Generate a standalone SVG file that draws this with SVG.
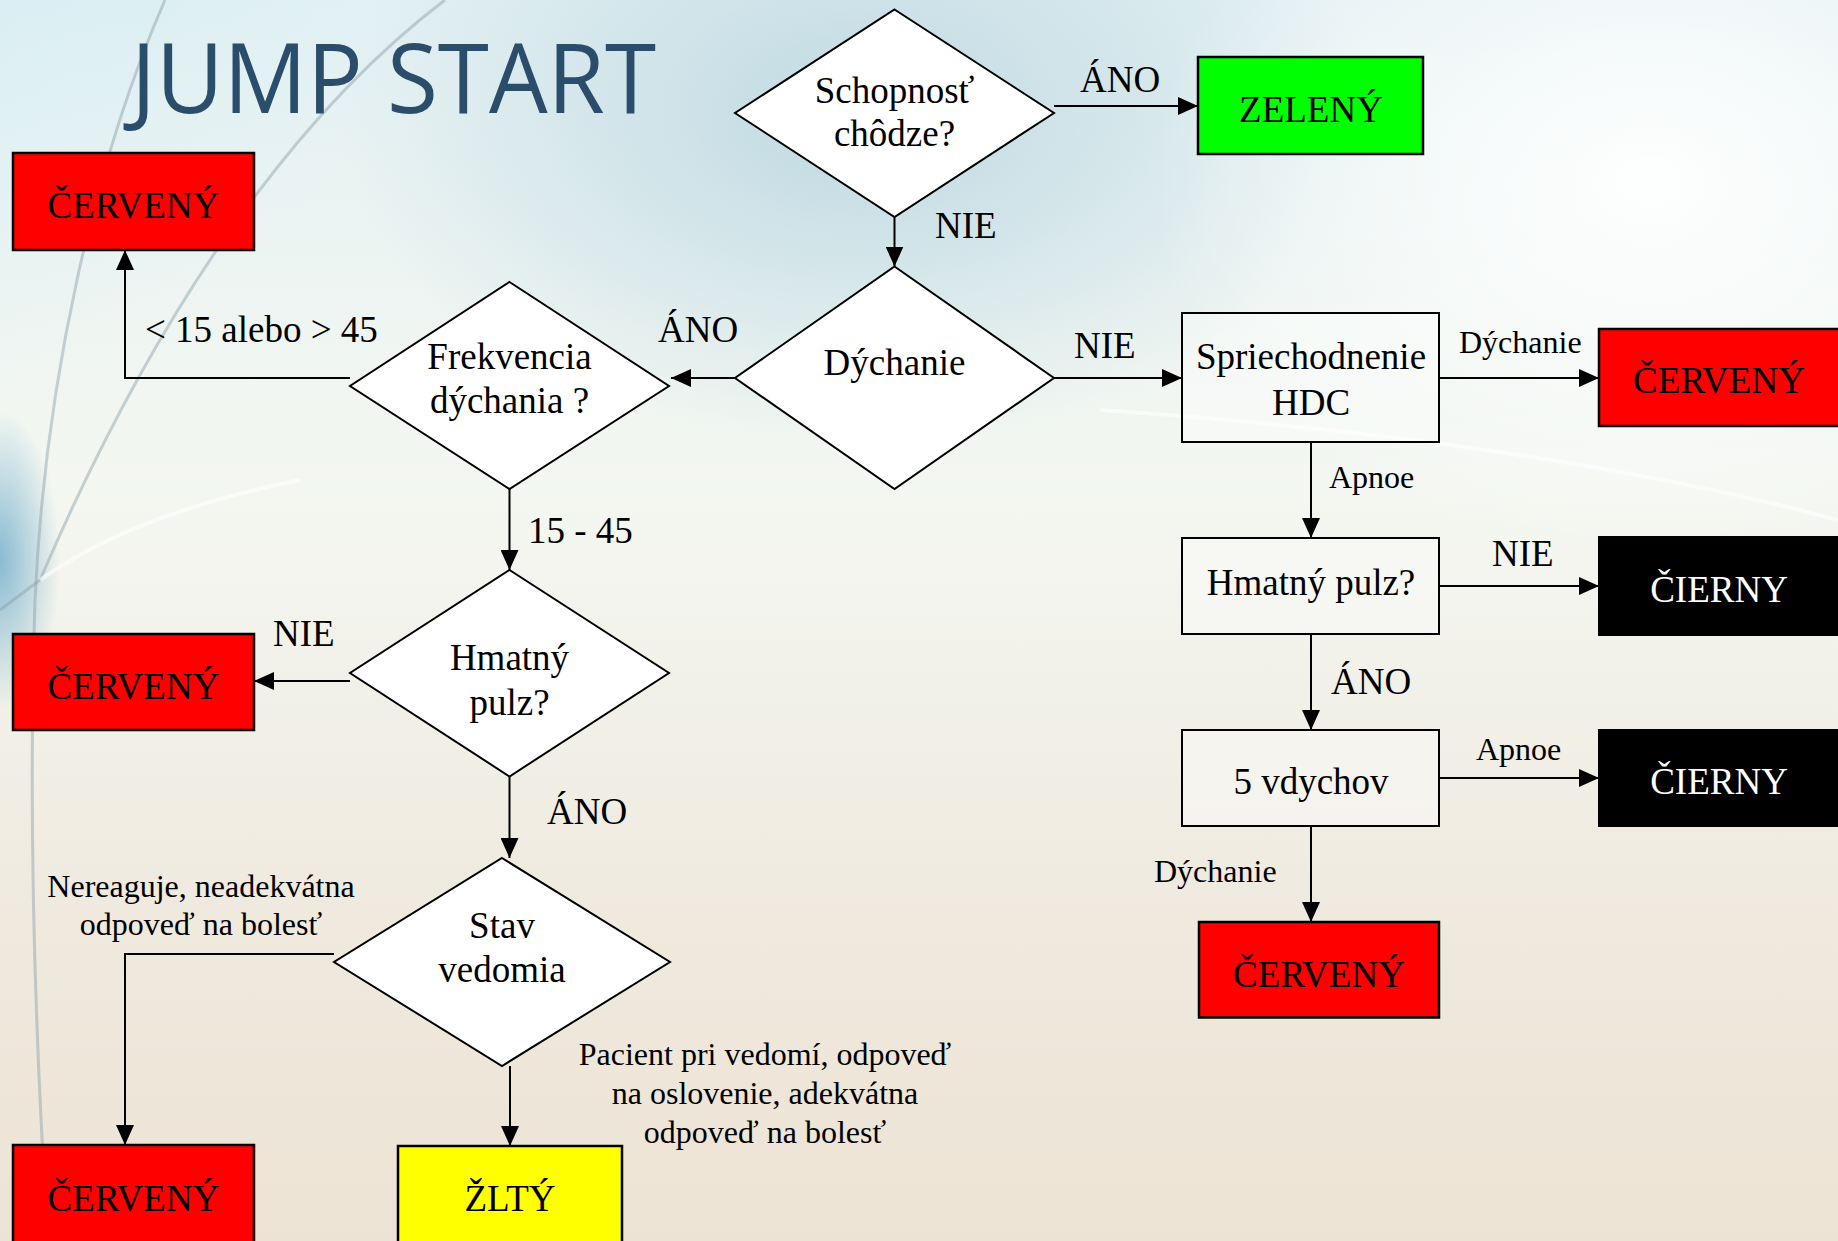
<svg xmlns="http://www.w3.org/2000/svg" width="1838" height="1241" viewBox="0 0 1838 1241">
<defs>
<linearGradient id="bgv" x1="0" y1="0" x2="0" y2="1">
<stop offset="0" stop-color="#e4f1f3"/>
<stop offset="0.4" stop-color="#f4f7f1"/>
<stop offset="0.75" stop-color="#efe9de"/>
<stop offset="1" stop-color="#ede3d4"/>
</linearGradient>
<radialGradient id="tl" cx="0" cy="0" r="1">
<stop offset="0" stop-color="#c2e8f4" stop-opacity="1"/>
<stop offset="1" stop-color="#c2e8f4" stop-opacity="0"/>
</radialGradient>
<radialGradient id="tc" cx="0.5" cy="0.5" r="0.5">
<stop offset="0" stop-color="#bcd7e1" stop-opacity="0.9"/>
<stop offset="1" stop-color="#bcd7e1" stop-opacity="0"/>
</radialGradient>
<radialGradient id="tr" cx="0.5" cy="0.5" r="0.5">
<stop offset="0" stop-color="#ffffff" stop-opacity="0.95"/>
<stop offset="1" stop-color="#ffffff" stop-opacity="0"/>
</radialGradient>
<radialGradient id="le" cx="0.5" cy="0.5" r="0.5">
<stop offset="0" stop-color="#7db4cf" stop-opacity="0.9"/>
<stop offset="1" stop-color="#7db4cf" stop-opacity="0"/>
</radialGradient>
<marker id="ah" markerUnits="userSpaceOnUse" markerWidth="20" markerHeight="18" refX="20" refY="9" orient="auto" viewBox="0 0 20 18">
<path d="M0,0 L20,9 L0,18 Z" fill="#000"/>
</marker>
<style>
.dia{fill:#ffffff;stroke:#000;stroke-width:2}
.box{fill:#ffffff;fill-opacity:0.35;stroke:#000;stroke-width:2}
.red{fill:#ff0000;stroke:#000;stroke-width:2.5}
.grn{fill:#00ff00;stroke:#000;stroke-width:2.5}
.yel{fill:#ffff00;stroke:#000;stroke-width:2.5}
.blk{fill:#000000;stroke:#000;stroke-width:2}
.t{font-family:"Liberation Serif","Times New Roman",serif;font-size:37px;fill:#000;text-anchor:middle}
.tw{font-family:"Liberation Serif","Times New Roman",serif;font-size:37px;fill:#fff;text-anchor:middle}
.l{font-family:"Liberation Serif","Times New Roman",serif;font-size:37px;fill:#000}
.s{font-family:"Liberation Serif","Times New Roman",serif;font-size:32px;fill:#000}
.sc{font-family:"Liberation Serif","Times New Roman",serif;font-size:32px;fill:#000;text-anchor:middle}
.c{fill:none;stroke:#000;stroke-width:2;marker-end:url(#ah)}
.arc{fill:none;stroke:#8a9ea6;stroke-opacity:0.45;stroke-width:3}
.arcw{fill:none;stroke:#ffffff;stroke-opacity:0.6;stroke-width:4}
</style>
</defs>
<g id="background">
<rect x="0" y="0" width="1838" height="1241" fill="url(#bgv)"/>
<ellipse cx="0" cy="0" rx="700" ry="520" fill="url(#tl)"/>
<ellipse cx="860" cy="120" rx="520" ry="330" fill="url(#tc)"/>
<ellipse cx="1650" cy="180" rx="500" ry="380" fill="url(#tr)"/>
<ellipse cx="0" cy="560" rx="60" ry="150" fill="url(#le)"/>
<path class="arc" d="M165,0 C95,160 45,380 35,600 C28,820 35,1040 48,1241"/>
<path class="arc" d="M445,0 C300,110 160,300 40,580 L0,610"/>
<path class="arcw" d="M300,480 C200,500 110,530 40,580"/>
<path class="arcw" d="M1100,410 C1400,430 1650,470 1838,520"/>
</g>
<text id="title" x="131" y="113" font-family="'Open Sans','DejaVu Sans',sans-serif" font-size="97" fill="#2b4d6c" textLength="525" lengthAdjust="spacingAndGlyphs">JUMP START</text>
<g id="connectors">
<path class="c" d="M1054,106 L1198,106"/>
<path class="c" d="M894.5,217 L894.5,266.5"/>
<path class="c" d="M1054,378 L1182,378"/>
<path class="c" d="M1439,378 L1599,378"/>
<path class="c" d="M1311,442 L1311,538"/>
<path class="c" d="M1439,586 L1599,586"/>
<path class="c" d="M1311,634 L1311,730"/>
<path class="c" d="M1439,778 L1599,778"/>
<path class="c" d="M1311,826 L1311,922"/>
<path class="c" d="M735,378 L671,378"/>
<path class="c" d="M350,378 L125,378 L125,250"/>
<path class="c" d="M509.5,489 L509.5,570"/>
<path class="c" d="M350,681 L254,681"/>
<path class="c" d="M509.5,776.5 L509.5,858"/>
<path class="c" d="M334,954 L125,954 L125,1145"/>
<path class="c" d="M510,1066 L510,1146"/>
</g>
<g id="n-schopnost">
<polygon class="dia" points="894.5,9.5 1054,113 894.5,217 735,113"/>
<text class="t" x="894.5" y="103">Schopnosť</text>
<text class="t" x="894.5" y="146">chôdze?</text>
</g>
<g id="n-zeleny">
<rect class="grn" x="1198" y="57" width="225" height="97"/>
<text class="t" x="1311" y="122">ZELENÝ</text>
</g>
<g id="n-dychanie">
<polygon class="dia" points="894.5,266.5 1054,378 894.5,489 735,378"/>
<text class="t" x="894.5" y="375">Dýchanie</text>
</g>
<g id="n-frekvencia">
<polygon class="dia" points="509.5,282 669,386 509.5,489 350,386"/>
<text class="t" x="509.5" y="369">Frekvencia</text>
<text class="t" x="509.5" y="413">dýchania ?</text>
</g>
<g id="n-cerveny1">
<rect class="red" x="13" y="153" width="241" height="97"/>
<text class="t" x="133.5" y="218">ČERVENÝ</text>
</g>
<g id="n-hmatny-d">
<polygon class="dia" points="509.5,570 669,673 509.5,776.5 350,673"/>
<text class="t" x="509.5" y="670">Hmatný</text>
<text class="t" x="509.5" y="715">pulz?</text>
</g>
<g id="n-cerveny2">
<rect class="red" x="13" y="634" width="241" height="96"/>
<text class="t" x="133.5" y="699">ČERVENÝ</text>
</g>
<g id="n-stav">
<polygon class="dia" points="502,858 670,962 502,1066 334,962"/>
<text class="t" x="502" y="938">Stav</text>
<text class="t" x="502" y="982">vedomia</text>
</g>
<g id="n-cerveny3">
<rect class="red" x="13" y="1145" width="241" height="110"/>
<text class="t" x="133.5" y="1211">ČERVENÝ</text>
</g>
<g id="n-zlty">
<rect class="yel" x="398" y="1146" width="224" height="110"/>
<text class="t" x="510" y="1211">ŽLTÝ</text>
</g>
<g id="n-hdc">
<rect class="box" x="1182" y="313" width="257" height="129"/>
<text class="t" x="1311" y="369">Spriechodnenie</text>
<text class="t" x="1311" y="415">HDC</text>
</g>
<g id="n-cerveny4">
<rect class="red" x="1599" y="329" width="241" height="97"/>
<text class="t" x="1719" y="393">ČERVENÝ</text>
</g>
<g id="n-hmatny-b">
<rect class="box" x="1182" y="538" width="257" height="96"/>
<text class="t" x="1311" y="595">Hmatný pulz?</text>
</g>
<g id="n-cierny1">
<rect class="blk" x="1599" y="537" width="241" height="98"/>
<text class="tw" x="1719" y="602">ČIERNY</text>
</g>
<g id="n-vdychov">
<rect class="box" x="1182" y="730" width="257" height="96"/>
<text class="t" x="1311" y="794">5 vdychov</text>
</g>
<g id="n-cierny2">
<rect class="blk" x="1599" y="730" width="241" height="96"/>
<text class="tw" x="1719" y="794">ČIERNY</text>
</g>
<g id="n-cerveny5">
<rect class="red" x="1199" y="922" width="240" height="95.5"/>
<text class="t" x="1319" y="987">ČERVENÝ</text>
</g>
<g id="labels">
<text class="l" x="1080" y="92">ÁNO</text>
<text class="l" x="935" y="238">NIE</text>
<text class="l" x="1074" y="358">NIE</text>
<text class="s" x="1459" y="353">Dýchanie</text>
<text class="s" x="1329" y="488">Apnoe</text>
<text class="l" x="1492" y="566">NIE</text>
<text class="l" x="1331" y="694">ÁNO</text>
<text class="s" x="1476" y="760">Apnoe</text>
<text class="s" x="1154" y="882">Dýchanie</text>
<text class="l" x="658" y="342">ÁNO</text>
<text class="l" x="145" y="342">&lt; 15 alebo &gt; 45</text>
<text class="l" x="528" y="543">15 - 45</text>
<text class="l" x="273" y="646">NIE</text>
<text class="l" x="547" y="824">ÁNO</text>
<text class="sc" x="201" y="897">Nereaguje, neadekvátna</text>
<text class="sc" x="201" y="935">odpoveď na bolesť</text>
<text class="sc" x="765" y="1065">Pacient pri vedomí, odpoveď</text>
<text class="sc" x="765" y="1104">na oslovenie, adekvátna</text>
<text class="sc" x="765" y="1143">odpoveď na bolesť</text>
</g>
</svg>
